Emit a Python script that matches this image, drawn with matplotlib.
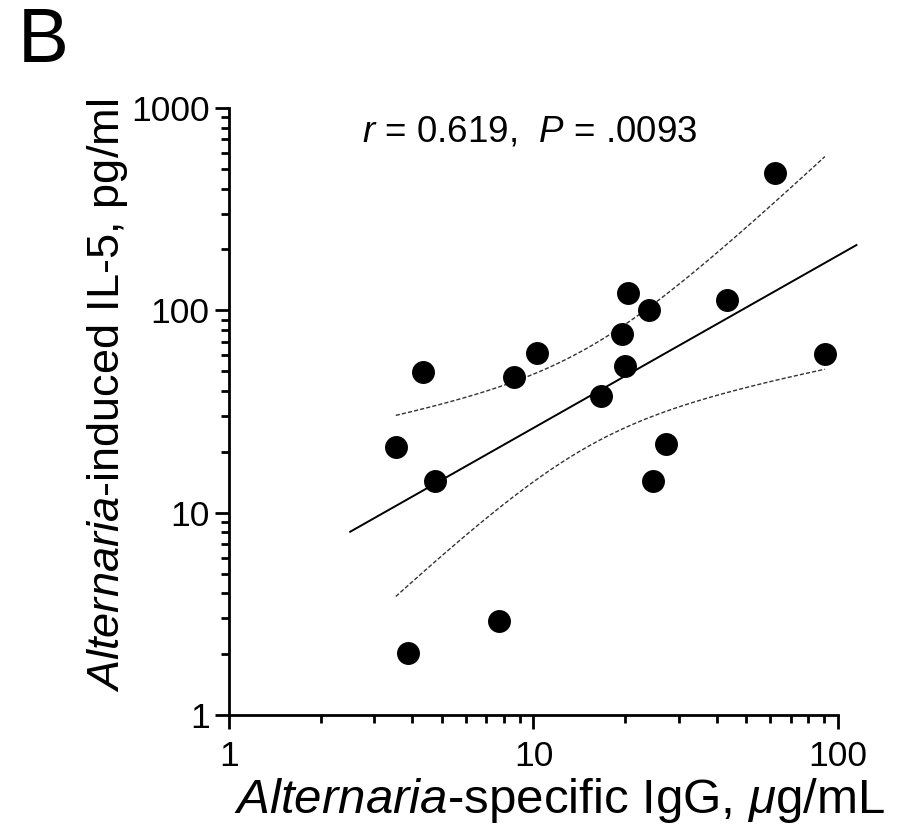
import numpy as np
import matplotlib
matplotlib.use('Agg')
import matplotlib.pyplot as plt

plt.rcParams['font.family'] = ['Liberation Sans', 'DejaVu Sans']
plt.rcParams['mathtext.fontset'] = 'custom'
plt.rcParams['mathtext.it'] = 'Liberation Sans:italic'
plt.rcParams['mathtext.rm'] = 'Liberation Sans'

# Alternaria-specific IgG (ug/mL) vs Alternaria-induced IL-5 (pg/ml)
igg = [62.1, 20.4, 24.0, 43.3, 19.5, 90.6, 10.3, 4.35, 8.65,
       20.0, 16.7, 3.53, 27.2, 4.75, 24.6, 7.72, 3.86]
il5 = [476, 121.5, 100, 112, 76.2, 60.7, 61.4, 49.4, 47.0,
       53.1, 37.7, 21.2, 21.9, 14.3, 14.3, 2.91, 2.02]

stat_text = r'$r$ = 0.619,  $P$ = .0093'

# -- regression in log-log space with 95% confidence band
lx = np.log10(igg)
ly = np.log10(il5)
n = len(lx)
slope, icpt = np.polyfit(lx, ly, 1)
resid = ly - (icpt + slope * lx)
s = np.sqrt(np.sum(resid ** 2) / (n - 2))
sxx = np.sum((lx - lx.mean()) ** 2)
t975 = 2.131  # t(0.975, df=15)

fit_x = np.linspace(np.log10(2.5), np.log10(115), 100)
band_x = np.linspace(lx.min(), lx.max(), 100)
half = t975 * s * np.sqrt(1.0 / n + (band_x - lx.mean()) ** 2 / sxx)
band_mid = icpt + slope * band_x

fig = plt.figure(figsize=(9.02, 8.26), dpi=100)
ax = fig.add_axes([0.2539, 0.1344, 0.6751, 0.7348])

ax.plot(10 ** fit_x, 10 ** (icpt + slope * fit_x), color='black', lw=1.4,
        clip_on=False)
ax.plot(10 ** band_x, 10 ** (band_mid + half), color='#333333', lw=1.0,
        ls=(0, (3, 1.5)))
ax.plot(10 ** band_x, 10 ** (band_mid - half), color='#333333', lw=1.0,
        ls=(0, (3, 1.5)))
ax.plot(igg, il5, 'o', color='black', ms=15.5, zorder=3, clip_on=False)

ax.set_xscale('log')
ax.set_yscale('log')
ax.set_xlim(1, 100)
ax.set_ylim(1, 1000)
ax.set_xticks([1, 10, 100])
ax.set_xticklabels(['1', '10', '100'])
ax.set_yticks([1, 10, 100, 1000])
ax.set_yticklabels(['1', '10', '100', '1000'])

for side in ['top', 'right']:
    ax.spines[side].set_visible(False)
for side in ['left', 'bottom']:
    ax.spines[side].set_linewidth(2)

ax.tick_params(which='major', length=10, width=2, labelsize=25.5)
ax.tick_params(axis='x', which='major', pad=8)
ax.tick_params(axis='y', which='major', pad=4)
ax.tick_params(which='minor', length=6, width=2)

ax.set_xlabel(r'$Alternaria$-specific IgG, $\mu$g/mL', fontsize=35.5,
              va='baseline')
ax.set_ylabel(r'$Alternaria$-induced IL-5, pg/ml', fontsize=32.5, va='center')
ax.xaxis.set_label_coords(0.5427, -0.1614)
ax.yaxis.set_label_coords(-0.199, 0.527)

ax.text(0.494, 0.960, stat_text, transform=ax.transAxes, fontsize=26.5,
        ha='center', va='center')
fig.text(0.02, 1 - 62 / 826, 'B', fontsize=55, ha='left', va='baseline')

fig.savefig('out.png', dpi=100)
